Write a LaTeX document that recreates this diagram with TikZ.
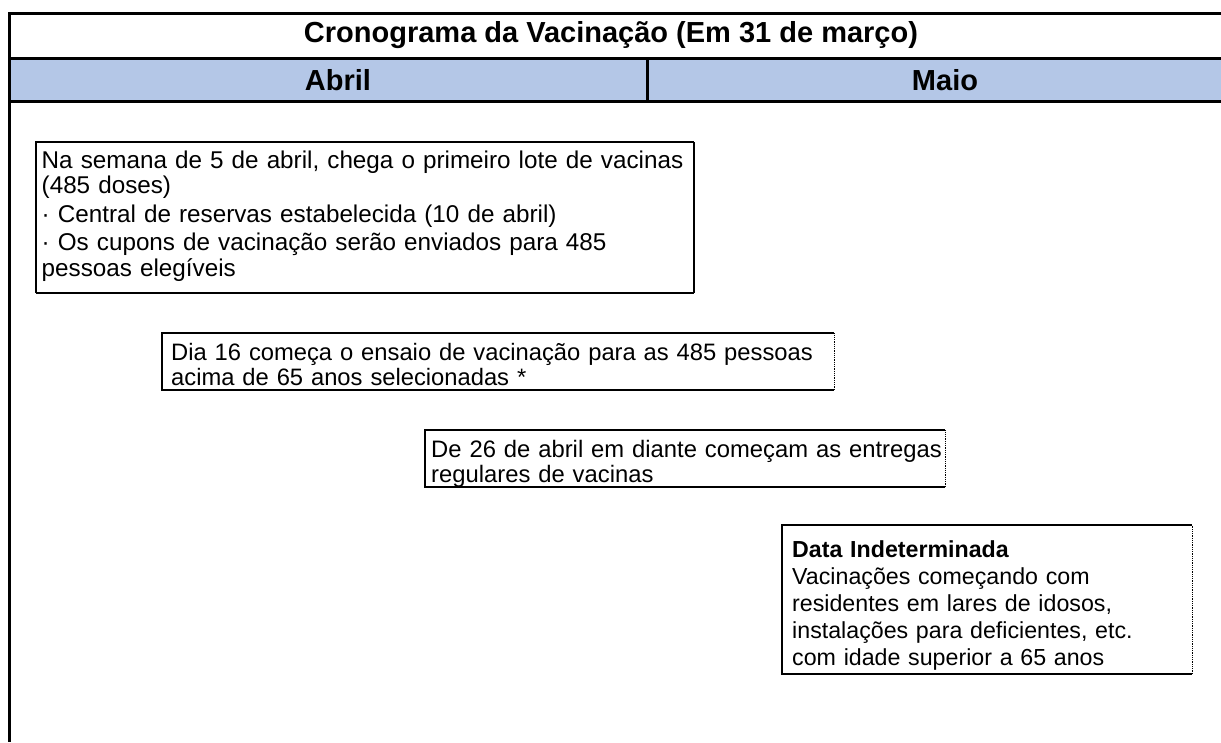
\documentclass[tikz,border=0pt]{standalone}
\usepackage{fontspec}
\setmainfont{Liberation Sans}
\usepackage{tikz}
\definecolor{headblue}{HTML}{B4C7E7}
\newcommand{\headfont}{\fontsize{29}{32}\selectfont\bfseries}

\begin{document}
\begin{tikzpicture}[x=1pt,y=-1pt,
    rule/.style={line width=3pt},
    card/.style={anchor=west, align=left, inner sep=0pt, text width=700pt},
    cardline/.style={line width=2.6pt},
    cardend/.style={line width=0.8pt, densely dotted}]
		\useasboundingbox (0,0) rectangle (1221,742);
		\fill[headblue] (10,58.5) rectangle (1221,101.5); % month row
		\draw[rule] (1221,13.5) -- (9.5,13.5) -- (9.5,742); % frame
		\draw[rule] (9.5,58.5) -- (1221,58.5);
		\draw[rule] (9.5,101.5) -- (1221,101.5);
		\draw[rule] (647,58.5) -- (647,101.5); % month divider
		\node[font=\headfont] (title) at (611,35) {Cronograma da Vacinação (Em 31 de março)};
		\node[font=\headfont] (abril) at (338,80) {Abril};
		\node[font=\headfont] (maio) at (945,80) {Maio};
		% first lot
		\coordinate (lote-nw) at (36,142);
		\coordinate (lote-se) at (694,293);
		\draw[cardline] (lote-se -| lote-nw) -- (lote-nw) -- (lote-nw -| lote-se);
		\draw[cardline] (lote-se -| lote-nw) -- (lote-se);
		\draw[line width=2pt] (lote-se) -- (lote-nw -| lote-se);
		\node[card, font=\fontsize{24.25}{25.5}\selectfont] (lote) at (41.5,216)
		{Na semana de 5 de abril, chega o primeiro lote de vacinas\\(485 doses)\\[3pt]
		 · Central de reservas estabelecida (10 de abril)\\[3pt]
		 · Os cupons de vacinação serão enviados para 485\\pessoas elegíveis};
		% trial
		\coordinate (ensaio-nw) at (162,333);
		\coordinate (ensaio-se) at (834,390);
		\draw[cardline] (ensaio-nw -| ensaio-se) -- (ensaio-nw) -- (ensaio-se -| ensaio-nw) -- (ensaio-se);
		\draw[cardend] (ensaio-se) -- (ensaio-nw -| ensaio-se);
		\node[card, font=\fontsize{23.75}{25}\selectfont] (ensaio) at (171,364.5)
		{Dia 16 começa o ensaio de vacinação para as 485 pessoas\\acima de 65 anos selecionadas *};
		% regular deliveries
		\coordinate (entregas-nw) at (425,430);
		\coordinate (entregas-se) at (945,487);
		\draw[cardline] (entregas-nw -| entregas-se) -- (entregas-nw) -- (entregas-se -| entregas-nw) -- (entregas-se);
		\draw[cardend] (entregas-se) -- (entregas-nw -| entregas-se);
		\node[card, font=\fontsize{23.8}{25}\selectfont] (entregas) at (431,464)
		{De 26 de abril em diante começam as entregas\\regulares de vacinas};
		% undetermined date
		\coordinate (idosos-nw) at (782,525);
		\coordinate (idosos-se) at (1192,674);
		\draw[cardline] (idosos-nw -| idosos-se) -- (idosos-nw) -- (idosos-se -| idosos-nw) -- (idosos-se);
		\draw[cardend] (idosos-se) -- (idosos-nw -| idosos-se);
		\node[card, font=\fontsize{23.2}{27}\selectfont] (idosos) at (792,605.5)
		{\textbf{Data Indeterminada}\\Vacinações começando com\\residentes em lares de idosos,\\instalações para deficientes, etc.\\com idade superior a 65 anos};
\end{tikzpicture}
\end{document}
